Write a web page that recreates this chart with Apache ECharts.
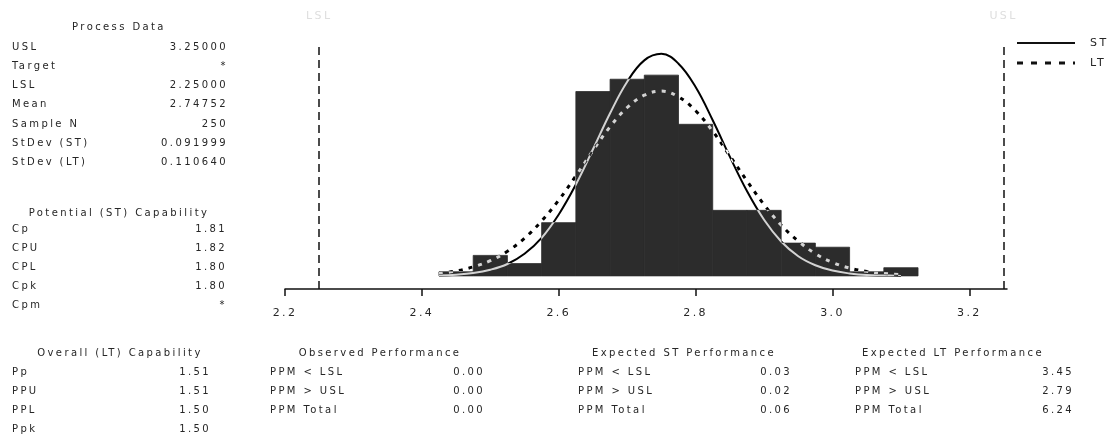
<!DOCTYPE html>
<html>
<head>
<meta charset="utf-8">
<script src="https://cdn.jsdelivr.net/npm/echarts@6/dist/echarts.min.js"></script>
<style>
  html, body { margin: 0; padding: 0; background: #fff; }
  #chart { width: 1115px; height: 435px; }
</style>
</head>
<body>
<div id="chart"></div>
<script>
// ---------------- DATA ----------------
const xTicks = [2.2, 2.4, 2.6, 2.8, 3.0, 3.2];
const specNames = ['LSL', 'USL'];
const specValues = [2.25, 3.25];

const binWidth = 0.05;
const binStarts = [2.425, 2.475, 2.525, 2.575, 2.625, 2.675, 2.725, 2.775, 2.825, 2.875, 2.925, 2.975, 3.025, 3.075];
const binCounts = [1, 5, 3, 13, 45, 48, 49, 37, 16, 16, 8, 7, 1, 2];

const curveX = [2.425, 2.45, 2.475, 2.5, 2.525, 2.55, 2.575, 2.6, 2.625, 2.65, 2.675, 2.7, 2.725, 2.75,
                2.775, 2.8, 2.825, 2.85, 2.875, 2.9, 2.925, 2.95, 2.975, 3.0, 3.025, 3.05, 3.075, 3.1];
const stCurve = [0.1, 0.3, 0.7, 1.5, 2.9, 5.4, 9.3, 15.0, 22.3, 30.9, 39.7, 47.4, 52.6, 54.2,
                 51.8, 46.1, 38.0, 29.1, 20.7, 13.7, 8.4, 4.8, 2.6, 1.3, 0.6, 0.2, 0.1, 0.0];
const ltCurve = [0.6, 1.2, 2.2, 3.7, 6.0, 9.2, 13.4, 18.5, 24.4, 30.6, 36.4, 41.1, 44.1, 45.1,
                 43.7, 40.3, 35.3, 29.3, 23.2, 17.4, 12.4, 8.5, 5.4, 3.3, 1.9, 1.1, 0.6, 0.3];
const legendNames = ['ST', 'LT'];

const processDataLabels = ['USL', 'Target', 'LSL', 'Mean', 'Sample N', 'StDev (ST)', 'StDev (LT)'];
const processDataValues = ['3.25000', '*', '2.25000', '2.74752', '250', '0.091999', '0.110640'];

const potentialLabels = ['Cp', 'CPU', 'CPL', 'Cpk', 'Cpm'];
const potentialValues = ['1.81', '1.82', '1.80', '1.80', '*'];

const overallLabels = ['Pp', 'PPU', 'PPL', 'Ppk'];
const overallValues = ['1.51', '1.51', '1.50', '1.50'];

const ppmLabels = ['PPM < LSL', 'PPM > USL', 'PPM Total'];
const observedValues = ['0.00', '0.00', '0.00'];
const expectedSTValues = ['0.03', '0.02', '0.06'];
const expectedLTValues = ['3.45', '2.79', '6.24'];

const tableTitles = ['Process Data', 'Potential (ST) Capability', 'Overall (LT) Capability',
                     'Observed Performance', 'Expected ST Performance', 'Expected LT Performance'];

// Wide letter spacing, as in the scanned Minitab output
(function () {
  const proto = CanvasRenderingContext2D.prototype;
  if (!('letterSpacing' in proto)) return;
  const orig = proto.fillText;
  proto.fillText = function (t, x, y, mw) {
    const prev = this.letterSpacing;
    this.letterSpacing = '2.4px';
    if (mw === undefined) orig.call(this, t, x, y); else orig.call(this, t, x, y, mw);
    this.letterSpacing = prev;
  };
})();

// ---------------- TEXT TABLES (graphic) ----------------
const FONT = 'DejaVu Sans';
const TXT = '#262626';
function txt(x, y, s, align) {
  return { type: 'text', x: x, y: y, silent: true,
    style: { text: s, fontFamily: FONT, fontSize: 10, fill: TXT, align: align || 'left', verticalAlign: 'middle' } };
}
function block(title, titleX, titleY, labels, values, labelX, valueX, rowY0, rowStep) {
  const out = [txt(titleX, titleY, title, 'center')];
  labels.forEach((l, i) => {
    out.push(txt(labelX, rowY0 + i * rowStep, l, 'left'));
    out.push(txt(valueX, rowY0 + i * rowStep, values[i], 'right'));
  });
  return out;
}
const graphics = [].concat(
  block(tableTitles[0], 119, 27, processDataLabels, processDataValues, 12, 228, 47, 19.3),
  block(tableTitles[1], 119, 213, potentialLabels, potentialValues, 12, 227, 229.5, 18.9),
  block(tableTitles[2], 120, 353, overallLabels, overallValues, 12, 211, 372, 19),
  block(tableTitles[3], 380, 353, ppmLabels, observedValues, 270, 485, 372, 19),
  block(tableTitles[4], 684, 353, ppmLabels, expectedSTValues, 578, 792, 372, 19),
  block(tableTitles[5], 953, 353, ppmLabels, expectedLTValues, 855, 1074, 372, 19),
  [
    { type: 'line', silent: true, shape: { x1: 1017, y1: 43, x2: 1075, y2: 43 },
      style: { stroke: '#111', lineWidth: 2 } },
    { type: 'line', silent: true, shape: { x1: 1017, y1: 63, x2: 1075, y2: 63 },
      style: { stroke: '#111', lineWidth: 3, lineDash: [6, 8] } },
    { type: 'text', x: 1090, y: 43, silent: true,
      style: { text: legendNames[0], fontFamily: FONT, fontSize: 11, fill: TXT, verticalAlign: 'middle' } },
    { type: 'text', x: 1090, y: 63, silent: true,
      style: { text: legendNames[1], fontFamily: FONT, fontSize: 11, fill: TXT, verticalAlign: 'middle' } }
  ]
);

// ---------------- CHART ----------------
const chart = echarts.init(document.getElementById('chart'), null, { renderer: 'canvas' });
const option = {
  backgroundColor: '#ffffff',
  animation: false,
  grid: { left: 285, right: 108, top: 44, bottom: 146, containLabel: false },
  xAxis: {
    type: 'value', min: 2.2, max: 3.255,
    axisLine: { show: true, onZero: false, lineStyle: { color: '#111', width: 1.5 } },
    axisTick: { show: true, inside: false, length: 7, customValues: xTicks, lineStyle: { color: '#111', width: 1.5 } },
    axisLabel: { show: true, customValues: xTicks, margin: 19, fontFamily: FONT, fontSize: 11, color: TXT,
      formatter: v => v.toFixed(1) },
    splitLine: { show: false }
  },
  yAxis: {
    type: 'value', min: -3.2, max: 56.6, show: false, splitLine: { show: false }
  },
  series: [
    {
      name: 'Histogram', type: 'custom', z: 2,
      data: binStarts.map((s, i) => [s, binCounts[i]]),
      renderItem: function (params, api) {
        const x0 = api.value(0), c = api.value(1);
        const p0 = api.coord([x0, 0]);
        const p1 = api.coord([x0 + binWidth, c]);
        return { type: 'rect',
          shape: { x: p0[0], y: p1[1], width: p1[0] - p0[0], height: p0[1] - p1[1] },
          style: { fill: '#2c2c2c', stroke: '#2c2c2c', lineWidth: 0.8 } };
      },
      markLine: {
        silent: true, symbol: 'none', animation: false,
        lineStyle: { color: '#111', width: 1.5, type: [8, 5] },
        label: { show: true, position: 'end', distance: 22, formatter: '{b}',
          color: '#dedede', fontFamily: FONT, fontSize: 11 },
        data: specValues.map((v, i) => ({ name: specNames[i], xAxis: v }))
      }
    },
    {
      name: legendNames[0], type: 'line', z: 3, smooth: 0.4, showSymbol: false, symbol: 'none',
      data: curveX.map((x, i) => [x, stCurve[i]]),
      lineStyle: { color: '#ffffff', width: 2 },
      blendMode: 'difference'
    },
    {
      name: legendNames[1], type: 'line', z: 3, smooth: 0.4, showSymbol: false, symbol: 'none',
      data: curveX.map((x, i) => [x, ltCurve[i]]),
      lineStyle: { color: '#ffffff', width: 3, type: [4, 6] },
      blendMode: 'difference'
    }
  ],
  graphic: graphics
};
chart.setOption(option);
</script>
</body>
</html>
